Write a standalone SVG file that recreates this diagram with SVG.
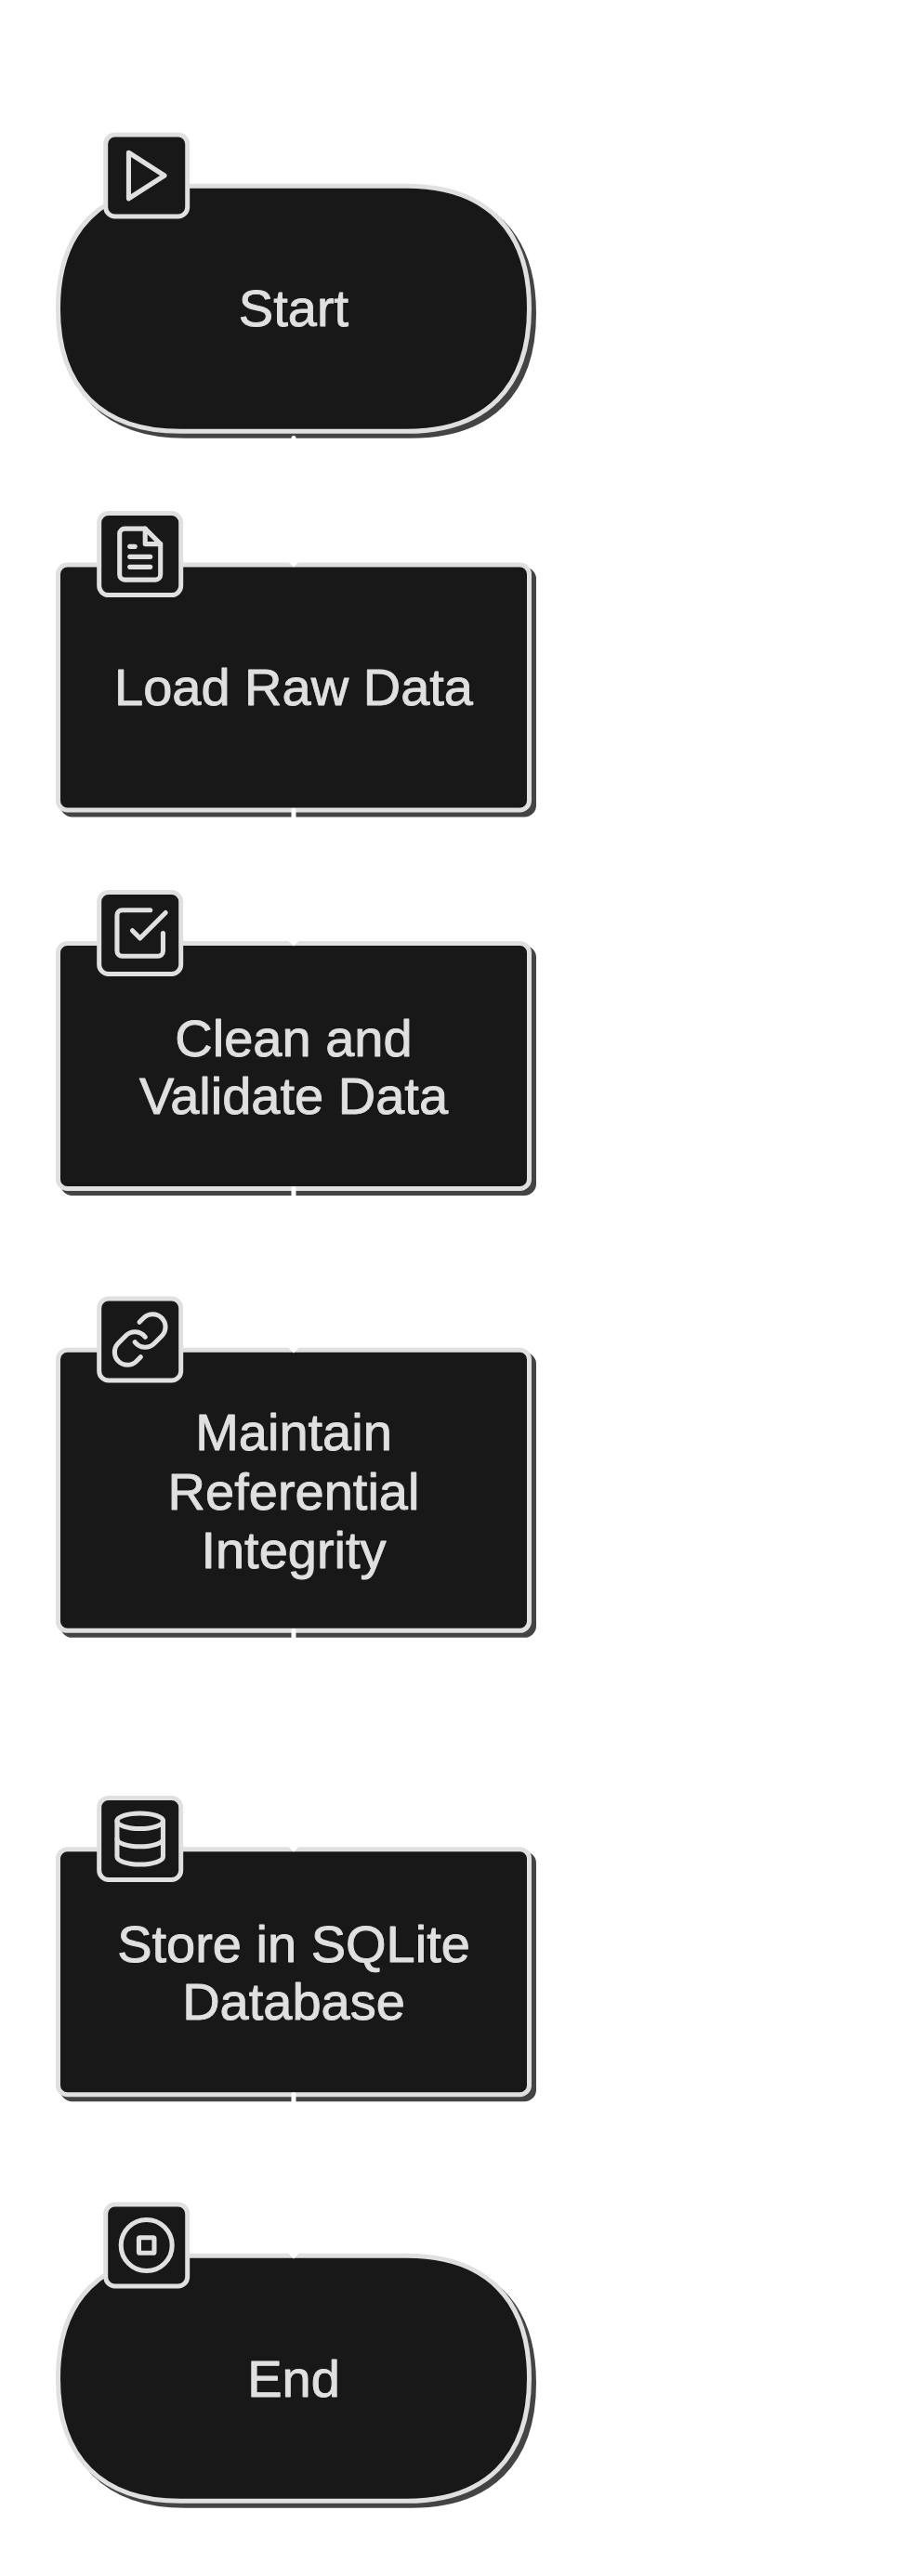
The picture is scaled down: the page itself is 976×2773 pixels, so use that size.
<svg xmlns="http://www.w3.org/2000/svg" width="976" height="2773" viewBox="0 0 976 2773">
<style>
.body{fill:#181818;stroke:#e0e0e0;stroke-width:5}
.shadow{fill:#444444;stroke:#444444;stroke-width:5}
.box{fill:#181818;stroke:#e0e0e0;stroke-width:5}
.ico{fill:none;stroke:#e0e0e0;stroke-width:1.85;stroke-linecap:round;stroke-linejoin:round}
.lbl{font-family:"Liberation Sans",Arial,sans-serif;font-size:56px;fill:#e0e0e0;stroke:#e0e0e0;stroke-width:0.9;stroke-linejoin:round;stroke-linecap:round;text-anchor:middle}
.conn{fill:none;stroke:#ffffff;stroke-width:5;stroke-linecap:round}
.head{fill:#ffffff}
</style>
<defs>
<path id="pill" d="M194.5 0H437.5C522.6 0 569.5 46.9 569.5 132C569.5 217.1 522.6 264 437.5 264H194.5C109.4 264 62.5 217.1 62.5 132C62.5 46.9 109.4 0 194.5 0Z"/>
</defs>
<rect width="976" height="2773" fill="#ffffff"/>
<g id="node-start">
<use href="#pill" class="shadow" x="5" y="205.3"/>
<use href="#pill" class="body" y="200.3"/>
<rect class="box" x="113.7" y="145" width="88" height="88" rx="10"/>
<g class="ico" transform="translate(124.7 156) scale(2.75)"><polygon points="5 3 19 12 5 21 5 3"/></g>
<text class="lbl" x="316" y="351">Start</text>
</g>
<g id="node-load">
<rect class="shadow" x="67.5" y="613" width="507" height="264" rx="10"/>
<rect class="body" x="62.5" y="608" width="507" height="264" rx="10"/>
<rect class="box" x="106.7" y="552.6" width="88" height="88" rx="10"/>
<g class="ico" transform="translate(117.7 563.6) scale(2.75)"><path d="M14 2H6a2 2 0 0 0-2 2v16a2 2 0 0 0 2 2h12a2 2 0 0 0 2-2V8z"/><polyline points="14 2 14 8 20 8"/><line x1="16" y1="13" x2="8" y2="13"/><line x1="16" y1="17" x2="8" y2="17"/><polyline points="10 9 9 9 8 9"/></g>
<text class="lbl" x="316" y="759">Load Raw Data</text>
</g>
<g id="node-clean">
<rect class="shadow" x="67.5" y="1020.5" width="507" height="264" rx="10"/>
<rect class="body" x="62.5" y="1015.5" width="507" height="264" rx="10"/>
<rect class="box" x="106.7" y="960.5" width="88" height="88" rx="10"/>
<g class="ico" transform="translate(117.7 971.5) scale(2.75)"><polyline points="9 11 12 14 22 4"/><path d="M21 12v7a2 2 0 0 1-2 2H5a2 2 0 0 1-2-2V5a2 2 0 0 1 2-2h11"/></g>
<text class="lbl" x="316" y="1136.5">Clean and</text>
<text class="lbl" x="316" y="1198.5">Validate Data</text>
</g>
<g id="node-integrity">
<rect class="shadow" x="67.5" y="1458.3" width="507" height="302" rx="10"/>
<rect class="body" x="62.5" y="1453.3" width="507" height="302" rx="10"/>
<rect class="box" x="106.7" y="1398" width="88" height="88" rx="10"/>
<g class="ico" transform="translate(117.7 1409) scale(2.75)"><path d="M10 13a5 5 0 0 0 7.54.54l3-3a5 5 0 0 0-7.07-7.07l-1.72 1.71"/><path d="M14 11a5 5 0 0 0-7.54-.54l-3 3a5 5 0 0 0 7.07 7.07l1.71-1.71"/></g>
<text class="lbl" x="316" y="1561">Maintain</text>
<text class="lbl" x="316" y="1625">Referential</text>
<text class="lbl" x="316" y="1688">Integrity</text>
</g>
<g id="node-store">
<rect class="shadow" x="67.5" y="1995.7" width="507" height="264" rx="10"/>
<rect class="body" x="62.5" y="1990.7" width="507" height="264" rx="10"/>
<rect class="box" x="106.7" y="1935.5" width="88" height="88" rx="10"/>
<g class="ico" transform="translate(117.7 1946.5) scale(2.75)"><ellipse cx="12" cy="5" rx="9" ry="3"/><path d="M21 12c0 1.66-4 3-9 3s-9-1.34-9-3"/><path d="M3 5v14c0 1.66 4 3 9 3s9-1.34 9-3V5"/></g>
<text class="lbl" x="316" y="2111.5">Store in SQLite</text>
<text class="lbl" x="316" y="2173.5">Database</text>
</g>
<g id="node-end">
<use href="#pill" class="shadow" x="5" y="2433.3"/>
<use href="#pill" class="body" y="2428.3"/>
<rect class="box" x="113.7" y="2373" width="88" height="88" rx="10"/>
<g class="ico" transform="translate(124.7 2384) scale(2.75)"><circle cx="12" cy="12" r="10"/><rect x="9" y="9" width="6" height="6" rx="0.4"/></g>
<text class="lbl" x="316" y="2580">End</text>
</g>
<g id="connectors">
<path class="conn" d="M316 471.5V600"/><path class="head" d="M308.5 603L323.5 603L316 610.5Z"/>
<path class="conn" d="M316 872.3V1008"/><path class="head" d="M308.5 1011L323.5 1011L316 1018.5Z"/>
<path class="conn" d="M316 1279.5V1446"/><path class="head" d="M308.5 1449L323.5 1449L316 1456.5Z"/>
<path class="conn" d="M316 1755.5V1983"/><path class="head" d="M308.5 1986L323.5 1986L316 1993.5Z"/>
<path class="conn" d="M316 2254.7V2421"/><path class="head" d="M308.5 2424L323.5 2424L316 2431.5Z"/>
</g>
</svg>
